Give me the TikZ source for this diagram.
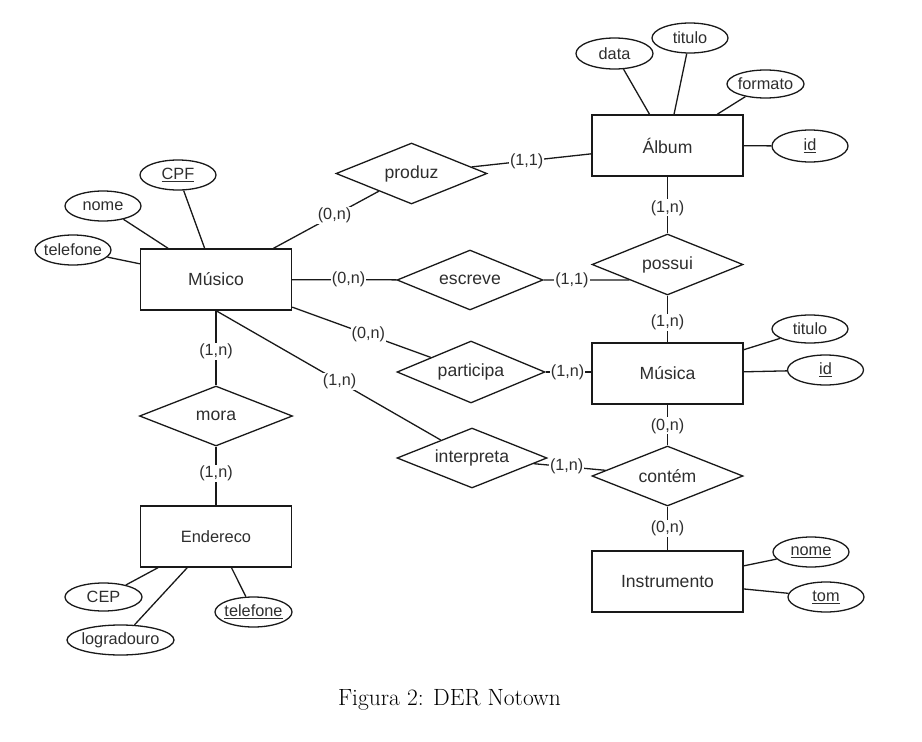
\documentclass[tikz,border=0pt]{standalone}
\usepackage{fontspec}
\newfontfamily\diag{Liberation Sans}
\usetikzlibrary{shapes.geometric,calc}
\definecolor{txt}{gray}{0.18}
\definecolor{lc}{gray}{0.1}
\tikzset{
  ent/.style={draw=lc, line width=1.3pt, rectangle, minimum width=151pt, minimum height=61pt, inner sep=0pt, text=txt, font=\diag\fontsize{17.6}{20}\selectfont},
  rel/.style={draw=lc, line width=1.3pt, diamond, aspect=2.5, minimum width=151pt, minimum height=61pt, inner sep=0pt, text=txt, font=\diag\fontsize{17.6}{20}\selectfont},
  att/.style={draw=lc, line width=1.3pt, ellipse, minimum width=76pt, minimum height=30pt, inner ysep=0pt, inner xsep=-4pt, text=txt, font=\diag\fontsize{16.3}{18}\selectfont},
  card/.style={fill=white, inner sep=1pt, text=txt, font=\diag\fontsize{16.2}{18}\selectfont},
  conn/.style={draw=lc, line width=1.3pt}
}
\begin{document}
\begin{tikzpicture}[x=1pt,y=-1pt]
\useasboundingbox (0,0) rectangle (922,742);
% entities
\node[ent] (album) at (667.5,145.5) {Álbum};
\node[ent] (musico) at (216,279.5) {Músico};
\node[ent] (musica) at (667.5,373.5) {Música};
\node[ent, font=\diag\fontsize{16.4}{19}\selectfont] (endereco) at (216,536.5) {Endereco};
\node[ent] (instrumento) at (667.5,581.5) {Instrumento};
% relationships
\node[rel] (produz) at (411.5,173.5) {produz};
\node[rel, minimum width=146pt, minimum height=60pt] (escreve) at (470,280) {escreve};
\node[rel] (possui) at (667.5,264.5) {possui};
\node[rel, minimum width=148pt, minimum height=62pt] (participa) at (471,372) {participa};
\node[rel, minimum width=150pt, minimum height=60pt] (interpreta) at (472,458) {interpreta};
\node[rel, minimum height=60pt] (contem) at (667.5,476) {contém};
\node[rel, minimum width=153pt, minimum height=60pt] (mora) at (216,416) {mora};
% attributes
\node[att, minimum width=77pt, minimum height=31pt] (data) at (614.5,53.5) {data};
\node[att] (titulo1) at (690,38) {titulo};
\node[att, minimum width=77pt, minimum height=28pt] (formato) at (765.5,84) {formato};
\node[att, minimum height=32pt] (id1) at (810,146) {\underline{id}};
\node[att] (cpf) at (178,175) {\underline{CPF}};
\node[att] (nome1) at (103,206) {nome};
\node[att] (tel1) at (73,250) {telefone};
\node[att, minimum height=28pt] (titulo2) at (810,329) {titulo};
\node[att] (id2) at (825.5,370) {\underline{id}};
\node[att, minimum width=77pt, minimum height=28pt] (cep) at (103.5,597) {CEP};
\node[att, minimum width=107pt] (lograd) at (120.5,640) {logradouro};
\node[att, minimum width=77pt] (tel2) at (253.5,612) {\underline{telefone}};
\node[att] (nome2) at (811,552) {\underline{nome}};
\node[att] (tom) at (826,597) {\underline{tom}};
% attribute connectors
\foreach \a/\b in {data/album, titulo1/album, formato/album, id1/album,
  cpf/musico, nome1/musico, tel1/musico, titulo2/musica, id2/musica,
  cep/endereco, lograd/endereco, tel2/endereco, nome2/instrumento, tom/instrumento}
  \draw[conn] (\a) -- (\b);
% relationship connectors
\draw[conn] (musico) -- node[card, pos=0.58] {(0,n)} (produz);
\draw[conn] (produz) -- node[card, pos=0.46] {(1,1)} (album);
\draw[conn] (musico) -- node[card, pos=0.54] {(0,n)} (escreve);
\coordinate (possuiL) at ($(possui.west)!0.5!(possui.south)$);
\draw[conn] (escreve.east) -- node[card, pos=0.33] {(1,1)} (possuiL);
\draw[conn] (album) -- node[card, pos=0.55] {(1,n)} (possui);
\draw[conn] (possui) -- node[card, pos=0.58] {(1,n)} (musica);
\draw[conn] (musico) -- node[card, pos=0.55] {(0,n)} (participa);
\draw[conn] (participa.east) -- node[card, pos=0.48] {(1,n)} (musica.west |- participa.east);
\draw[conn] (musico.south) -- node[card, pos=0.55] {(1,n)} (interpreta);
\draw[conn] (interpreta) -- node[card, pos=0.46] {(1,n)} (contem);
\draw[conn] (musica) -- node[card, pos=0.52] {(0,n)} (contem);
\draw[conn] (contem) -- node[card, pos=0.49] {(0,n)} (instrumento);
\draw[conn] (musico) -- node[card, pos=0.55] {(1,n)} (mora);
\draw[conn] (mora) -- node[card, pos=0.45] {(1,n)} (endereco);
% caption
\node[anchor=base, inner sep=0pt, font=\fontsize{23.5}{27}\selectfont] (caption) at (449.5,705) {Figura 2: DER Notown};
\end{tikzpicture}
\end{document}
